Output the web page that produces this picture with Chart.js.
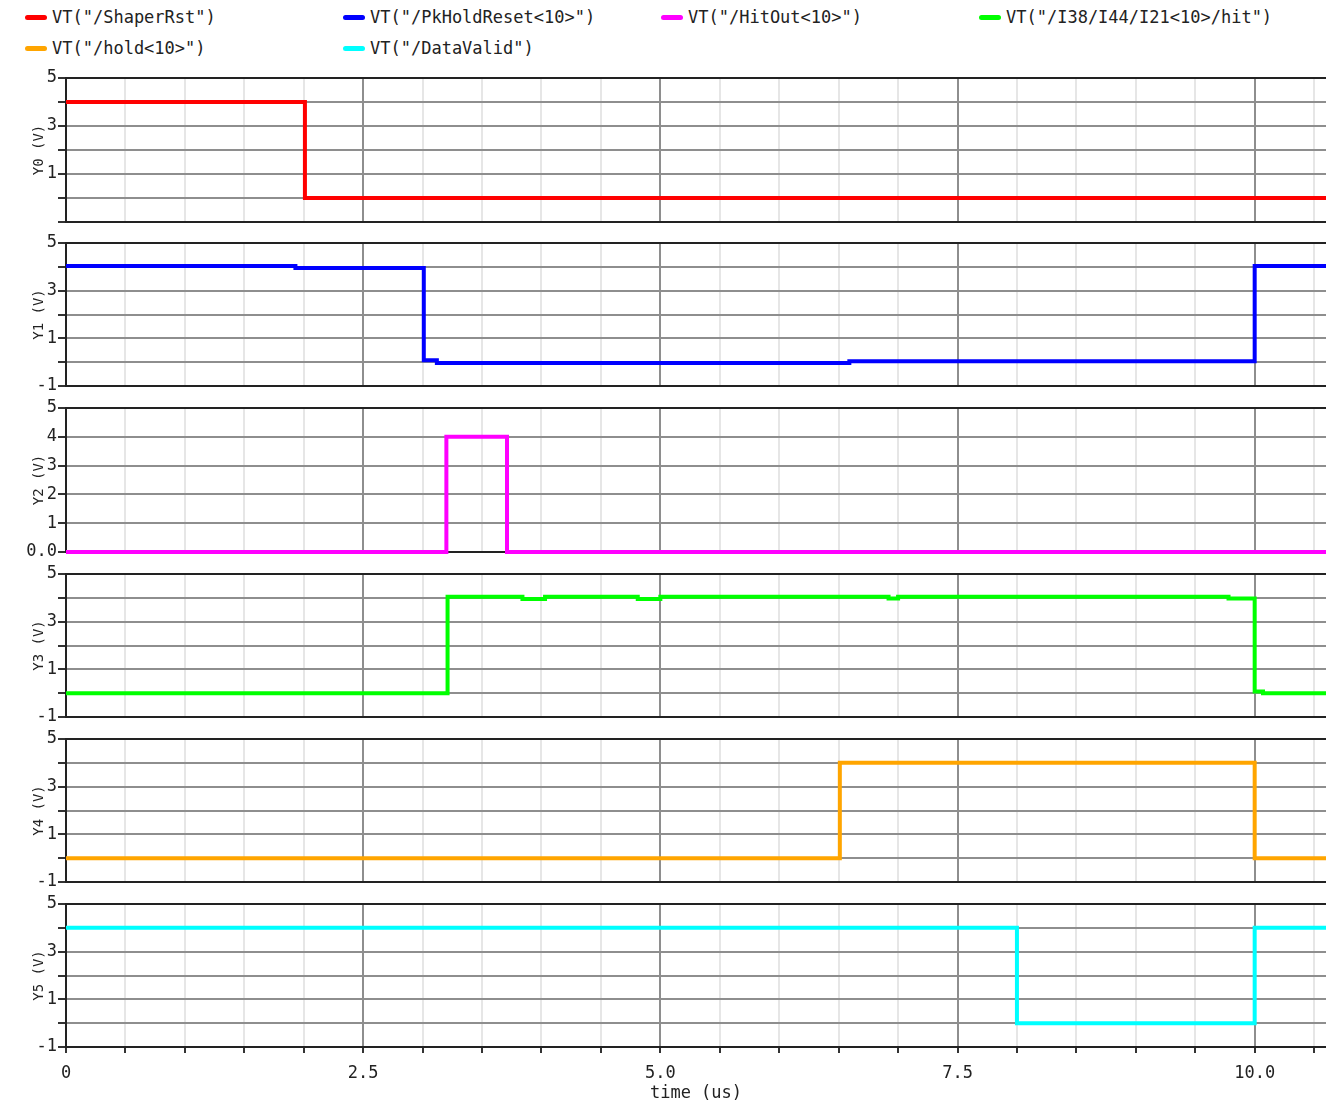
<!DOCTYPE html>
<html>
<head>
<meta charset="utf-8">
<script src="https://cdn.jsdelivr.net/npm/chart.js@4.4.1/dist/chart.umd.min.js"></script>
<style>
	body { margin: 0; width: 1326px; height: 1104px; background: #fff; position: relative; overflow: hidden; font-family: "DejaVu Sans Mono", monospace; }
	.panel { position: absolute; left: 0; width: 1326px; }
	.item { position: absolute; font-size: 17px; line-height: 20px; color: #222; white-space: pre; }
	.sw { display: inline-block; width: 22px; height: 5px; border-radius: 3px; margin-right: 5px; vertical-align: middle; position: relative; top: -1px; }
</style>
</head>
<body>
<div id="legend"></div>
<div class="panel" id="p0"><canvas id="c0"></canvas></div>
<div class="panel" id="p1"><canvas id="c1"></canvas></div>
<div class="panel" id="p2"><canvas id="c2"></canvas></div>
<div class="panel" id="p3"><canvas id="c3"></canvas></div>
<div class="panel" id="p4"><canvas id="c4"></canvas></div>
<div class="panel" id="p5"><canvas id="c5"></canvas></div>
<script>
// 신호 이름, 색
const signalNames = ['VT("/ShaperRst")', 'VT("/PkHoldReset<10>")', 'VT("/HitOut<10>")', 'VT("/I38/I44/I21<10>/hit")', 'VT("/hold<10>")', 'VT("/DataValid")'];
const signalColors = ['#ff0000', '#0000ff', '#ff00ff', '#00ff00', '#ffa500', '#00ffff'];

// 파형 데이터 (time us / V)
const shaperRstT = [0, 2.01, 2.01, 10.6];
const shaperRstV = [4, 4, 0, 0];
const pkHoldResetT = [0, 1.93, 1.93, 3.01, 3.01, 3.12, 3.12, 6.59, 6.59, 10.0, 10.0, 10.6];
const pkHoldResetV = [4.03, 4.03, 3.95, 3.95, 0.08, 0.08, -0.03, -0.03, 0.04, 0.04, 4.03, 4.03];
const hitOutT = [0, 3.2, 3.2, 3.71, 3.71, 10.6];
const hitOutV = [0, 0, 4, 4, 0, 0];
const hitT = [0, 3.21, 3.21, 3.84, 3.84, 4.03, 4.03, 4.81, 4.81, 5.0, 5.0, 6.92, 6.92, 7.0, 7.0, 9.78, 9.78, 10.0, 10.0, 10.07, 10.07, 10.6];
const hitV = [0, 0, 4.05, 4.05, 3.95, 3.95, 4.05, 4.05, 3.95, 3.95, 4.05, 4.05, 3.97, 3.97, 4.05, 4.05, 3.97, 3.97, 0.07, 0.07, 0, 0];
const holdT = [0, 6.51, 6.51, 10.0, 10.0, 10.6];
const holdV = [0, 0, 4, 4, 0, 0];
const dataValidT = [0, 8.0, 8.0, 10.0, 10.0, 10.6];
const dataValidV = [4, 4, 0, 0, 4, 4];

const times = [shaperRstT, pkHoldResetT, hitOutT, hitT, holdT, dataValidT];
const values = [shaperRstV, pkHoldResetV, hitOutV, hitV, holdV, dataValidV];

// 축 범위, 눈금 라벨
const yMins = [-1, -1, 0, -1, -1, -1];
const yMaxs = [5, 5, 5, 5, 5, 5];
const yTickText = [
	{ 5: '5', 3: '3', 1: '1' },
	{ 5: '5', 3: '3', 1: '1', '-1': '-1' },
	{ 5: '5', 4: '4', 3: '3', 2: '2', 1: '1', 0: '0.0' },
	{ 5: '5', 3: '3', 1: '1', '-1': '-1' },
	{ 5: '5', 3: '3', 1: '1', '-1': '-1' },
	{ 5: '5', 3: '3', 1: '1', '-1': '-1' }
];
const xTickValues = [0, 2.5, 5, 7.5, 10];
const xTickText = ['0', '2.5', '5.0', '7.5', '10.0'];
const xMin = 0, xMax = 10.6;

// 패널 위치
const plotTops = [78, 243, 408, 574, 739, 904];
const plotBottoms = [222, 386, 552, 717, 882, 1047];

Chart.defaults.font.family = '"DejaVu Sans Mono", monospace';
Chart.defaults.color = '#222';

// 범례
const legend = document.getElementById('legend');
signalNames.forEach((name, k) => {
	const item = document.createElement('div');
	item.className = 'item';
	item.style.left = (25 + (k % 4) * 318) + 'px';
	item.style.top = (k < 4 ? 7 : 38) + 'px';
	const sw = document.createElement('span');
	sw.className = 'sw';
	sw.style.background = signalColors[k];
	item.appendChild(sw);
	item.appendChild(document.createTextNode(name));
	legend.appendChild(item);
});

//패널 차트
function drawPanel(i) {
	const last = i === 5;
	const box = document.getElementById('p' + i);
	box.style.top = (plotTops[i] - 12) + 'px';
	box.style.height = last ? '212px' : (plotBottoms[i] - plotTops[i] + 24) + 'px';

	const points = times[i].map((t, k) => ({ x: t, y: values[i][k] }));
	const yMin = yMins[i], yMax = yMaxs[i];

	const ctx = document.getElementById('c' + i).getContext('2d');
	return new Chart(ctx, {
		type: 'line',
		data: {
			datasets: [{
				label: signalNames[i],
				data: points,
				borderColor: signalColors[i],
				borderWidth: 4,
				pointRadius: 0,
				tension: 0,
				fill: false,
				clip: false
			}]
		},
		options: {
			responsive: true,
			maintainAspectRatio: false,
			animation: false,
			layout: { padding: { top: 12, bottom: last ? 0 : 12, left: 0, right: 0 } },
			plugins: {
				legend: { display: false },
				tooltip: { enabled: false }
			},
			scales: {
				x: {
					type: 'linear',
					min: xMin,
					max: xMax,
					afterFit: s => { s.height = last ? 57 : 0; },
					ticks: {
						display: last,
						stepSize: 0.5,
						includeBounds: false,
						autoSkip: false,
						maxRotation: 0,
						padding: 10,
						font: { size: 17 },
						callback: v => {
							const k = xTickValues.indexOf(v);
							return k >= 0 ? xTickText[k] : '';
						}
					},
					grid: {
						color: c => {
							if (!c.tick) return '#e6e6e6';
							if (c.tick.value === 0) return '#222';
							return c.tick.value % 2.5 === 0 ? '#8e8e8e' : '#e6e6e6';
						},
						lineWidth: 2,
						drawTicks: last,
						tickLength: 6,
						tickColor: '#333'
					},
					border: { display: true, color: '#222', width: 2 },
					title: {
						display: last,
						text: 'time (us)',
						font: { size: 17 },
						padding: { top: 0, bottom: 0 }
					}
				},
				y: {
					type: 'linear',
					min: yMin,
					max: yMax,
					afterFit: s => { s.width = 66; },
					ticks: {
						stepSize: 1,
						autoSkip: false,
						padding: 1,
						font: { size: 17 },
						callback: v => yTickText[i][v] || ''
					},
					grid: {
						color: c => (c.tick && (c.tick.value === yMax || c.tick.value === yMin)) ? '#222' : '#8e8e8e',
						lineWidth: 2,
						tickLength: 8,
						tickColor: '#333'
					},
					border: { display: true, color: '#222', width: 2 },
					title: {
						display: true,
						text: 'Y' + i + ' (V)',
						font: { size: 14 },
						padding: { top: 31, bottom: 0 }
					}
				}
			}
		}
	});
}

const panels = [0, 1, 2, 3, 4, 5].map(drawPanel);
</script>
</body>
</html>
